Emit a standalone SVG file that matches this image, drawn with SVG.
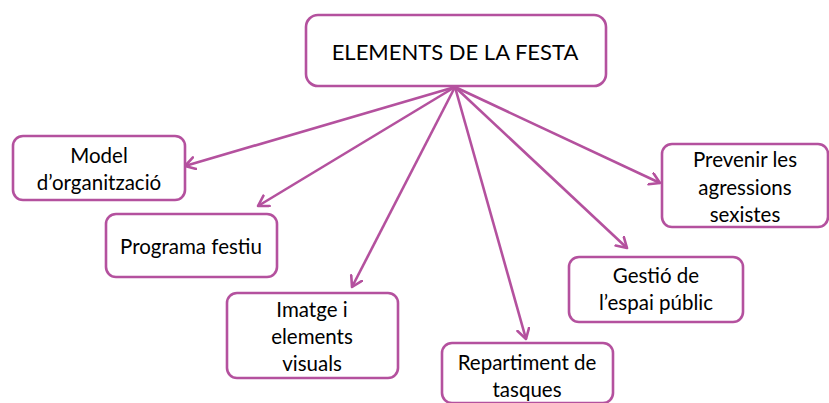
<svg xmlns="http://www.w3.org/2000/svg" width="829" height="403" viewBox="0 0 829 403">
<defs>
<style>
.box{fill:#fff;stroke:#B4519E;stroke-width:2.6}
.t{font-family:Lato,"Open Sans",sans-serif;font-size:20.5px;fill:#000;text-anchor:middle;dominant-baseline:central}
.title{font-size:22px}
.c{stroke:#B4519E;stroke-width:2.6;fill:none;marker-end:url(#ah)}
</style>
<marker id="ah" markerUnits="userSpaceOnUse" markerWidth="16" markerHeight="16" refX="11" refY="7" orient="auto">
<path d="M1,1 L11,7 L1,13" fill="none" stroke="#B4519E" stroke-width="2.6" stroke-linecap="round" stroke-linejoin="round"/>
</marker>
</defs>
<rect width="829" height="403" fill="#fff"/>
<g id="connectors">
<line class="c" x1="455" y1="87" x2="185" y2="166"/>
<line class="c" x1="455" y1="87" x2="258" y2="206"/>
<line class="c" x1="455" y1="87" x2="352" y2="287"/>
<line class="c" x1="455" y1="87" x2="526" y2="339"/>
<line class="c" x1="455" y1="87" x2="627" y2="248"/>
<line class="c" x1="455" y1="87" x2="660" y2="183"/>
</g>
<g id="node-title">
<rect class="box" x="306" y="15" width="300" height="71" rx="12"/>
<text class="t title" x="455" y="51">ELEMENTS DE LA FESTA</text>
</g>
<g id="node-model">
<rect class="box" x="13" y="136" width="172" height="64" rx="10"/>
<text class="t" x="99" y="155">Model</text>
<text class="t" x="99" y="182">d’organització</text>
</g>
<g id="node-programa">
<rect class="box" x="106" y="214" width="171" height="63" rx="10"/>
<text class="t" x="191" y="246">Programa festiu</text>
</g>
<g id="node-imatge">
<rect class="box" x="227" y="293" width="171" height="85" rx="10"/>
<text class="t" x="312" y="309">Imatge i</text>
<text class="t" x="312" y="336">elements</text>
<text class="t" x="312" y="363">visuals</text>
</g>
<g id="node-repartiment">
<rect class="box" x="442" y="343" width="171" height="60" rx="10"/>
<text class="t" x="527" y="362">Repartiment de</text>
<text class="t" x="527" y="389">tasques</text>
</g>
<g id="node-gestio">
<rect class="box" x="569" y="257" width="174" height="65" rx="10"/>
<text class="t" x="656" y="275">Gestió de</text>
<text class="t" x="656" y="302">l’espai públic</text>
</g>
<g id="node-prevenir">
<rect class="box" x="662" y="144" width="166" height="83" rx="10"/>
<text class="t" x="745" y="159">Prevenir les</text>
<text class="t" x="745" y="187">agressions</text>
<text class="t" x="745" y="214">sexistes</text>
</g>
</svg>
